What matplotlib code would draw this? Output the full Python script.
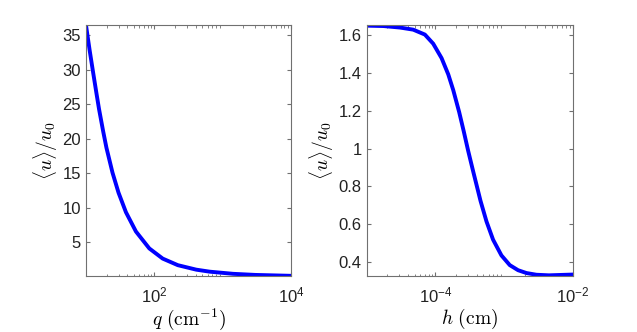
import math
import matplotlib
matplotlib.use('Agg')
import matplotlib.pyplot as plt
from matplotlib.ticker import FixedLocator, LogLocator, FuncFormatter, NullFormatter

plt.rcParams['font.family'] = ['Liberation Sans', 'DejaVu Sans']
plt.rcParams['mathtext.fontset'] = 'cm'

# left panel: <u>/u0 against q (cm^-1)
q_vals = [10.0, 11.3, 12.7, 14.2, 15.5, 17.8, 19.9, 24.4, 29.9, 38.4, 53.8,
          84.3, 132.4, 220.3, 410.2, 644.2, 1412.5, 3000.0, 10000.0]
u_q = [36.4, 32.8, 29.6, 26.6, 24.3, 21.1, 18.7, 15.1, 12.2, 9.37, 6.58,
       4.14, 2.67, 1.72, 1.07, 0.78, 0.47, 0.31, 0.18]

# right panel: <u>/u0 against h (cm)
h_vals = [1.0e-5, 1.75e-5, 3.05e-5, 4.75e-5, 7.03e-5, 9.29e-5, 1.23e-4,
          1.54e-4, 1.82e-4, 2.22e-4, 2.59e-4, 3.00e-4, 3.54e-4, 4.54e-4,
          5.55e-4, 6.92e-4, 9.16e-4, 1.21e-3, 1.60e-3, 2.12e-3, 2.96e-3,
          4.5e-3, 1.0e-2]
u_h = [1.648, 1.646, 1.638, 1.627, 1.601, 1.553, 1.477, 1.391, 1.308, 1.192,
       1.090, 0.988, 0.881, 0.724, 0.615, 0.519, 0.436, 0.385, 0.358, 0.343,
       0.334, 0.331, 0.335]

left_ticks = [1e2, 1e4]
right_ticks = [1e-4, 1e-2]
left_yticks = [5, 10, 15, 20, 25, 30, 35]
right_yticks = [0.4, 0.6, 0.8, 1.0, 1.2, 1.4, 1.6]

fig = plt.figure(figsize=(6.37, 3.32), dpi=100)
ax1 = fig.add_axes([0.135, 0.169, 0.322, 0.756])
ax2 = fig.add_axes([0.5757, 0.169, 0.3234, 0.756])


def pow_fmt(v, pos):
    return r'$\mathregular{10^{%d}}$' % round(math.log10(v))


def yfmt(v, pos):
    return '%g' % v


for ax, x, y, xt, yt, xl in [
        (ax1, q_vals, u_q, left_ticks, left_yticks, r'$q\ (\mathrm{cm}^{-1})$'),
        (ax2, h_vals, u_h, right_ticks, right_yticks, r'$h\ (\mathrm{cm})$')]:
    ax.plot(x, y, color=(0, 0, 1), lw=2.8, solid_joinstyle='round')
    ax.set_xscale('log')
    ax.set_xlim(x[0], x[-1])
    ax.xaxis.set_major_locator(FixedLocator(xt))
    ax.xaxis.set_major_formatter(FuncFormatter(pow_fmt))
    ax.xaxis.set_minor_locator(LogLocator(base=10, subs=range(2, 10), numticks=20))
    ax.xaxis.set_minor_formatter(NullFormatter())
    ax.set_yticks(yt)
    ax.yaxis.set_major_formatter(FuncFormatter(yfmt))
    ax.tick_params(which='both', direction='in', top=True, right=True,
                   color='#707070', labelsize=12, labelcolor='#222222')
    ax.tick_params(axis='x', which='major', pad=7)
    ax.tick_params(which='major', length=3)
    ax.tick_params(which='minor', length=1.8)
    for sp in ax.spines.values():
        sp.set_color('#707070')
        sp.set_linewidth(0.8)
    ax.set_xlabel(xl, fontsize=14, labelpad=1)
    ax.set_ylabel(r'$\langle u\rangle/u_0$', fontsize=14, labelpad=2)

ax1.set_ylim(0.17, 36.45)
ax2.set_ylim(0.328, 1.652)

fig.savefig('out.png', dpi=100)
